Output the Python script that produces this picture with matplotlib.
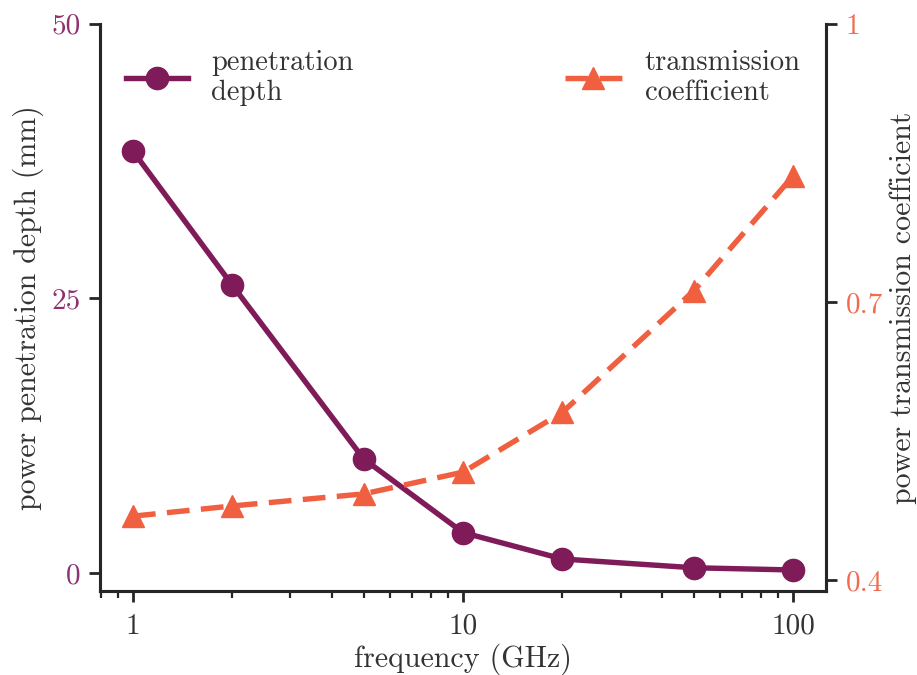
import numpy as np
import matplotlib
matplotlib.use("Agg")
import matplotlib.pyplot as plt
from matplotlib.ticker import LogLocator, NullFormatter

plt.rcParams.update({
    "font.family": "serif",
    "font.serif": ["cmr10", "DejaVu Serif"],
    "mathtext.fontset": "cm",
    "axes.formatter.use_mathtext": True,
    "axes.unicode_minus": False,
})

PUR, ORG, INK = "#7e1b58", "#f06040", "#333333"
PUR_T, ORG_T = "#8e3170", "#f36a4f"

freq = [1, 2, 5, 10, 20, 50, 100]
depth = [38.4, 26.2, 10.4, 3.7, 1.3, 0.5, 0.3]
trans = [0.469, 0.480, 0.493, 0.5165, 0.581, 0.712, 0.836]

fig, ax = plt.subplots(figsize=(9.17, 6.75), dpi=100)
fig.subplots_adjust(left=0.109, right=0.901, top=0.965, bottom=0.124)
ax2 = ax.twinx()

ax.plot(freq, depth, "-o", color=PUR, lw=3.9, ms=16, label="penetration\ndepth", zorder=3)
ax2.plot(freq, trans, "--^", color=ORG, lw=3.9, ms=16, dashes=(4.2, 2.1),
         label="transmission\ncoefficient", zorder=3)

ax.set_xscale("log")
ax.set_xlim(10 ** -0.1, 10 ** 2.1)
ax.set_ylim(-1.64, 50)
ax2.set_ylim(0.388, 1.0)
ax.set_yticks([0, 25, 50])
ax.set_yticklabels(["0", "25", "50"])
ax2.set_yticks([0.4, 0.7, 1.0])
ax2.set_yticklabels(["0.4", "0.7", "1"])
ax.set_xticks([1, 10, 100])
ax.set_xticklabels(["1", "10", "100"])
ax.xaxis.set_minor_locator(LogLocator(base=10, subs=np.arange(2, 10)))
ax.xaxis.set_minor_formatter(NullFormatter())

for a in (ax, ax2):
    a.spines["top"].set_visible(False)
    for sp in a.spines.values():
        sp.set_linewidth(2.2)
        sp.set_color("#262626")
    a.tick_params(which="major", length=8, width=2, color="#262626", labelsize=21, pad=6)
    a.tick_params(which="minor", length=5, width=1.6, color="#262626")
ax.tick_params(axis="x", labelcolor=INK, pad=8)
ax.tick_params(axis="y", labelcolor=PUR_T)
ax2.tick_params(axis="y", labelcolor=ORG_T)

ax.set_xlabel("frequency (GHz)", fontsize=21.5, color=INK, labelpad=3)
ax.set_ylabel("power penetration depth (mm)", fontsize=21.5, color=INK, labelpad=5)
ax2.set_ylabel("power transmission coefficient", fontsize=21.5, color=INK, labelpad=5)

ax.legend(loc="upper left", frameon=False, fontsize=20.5, handlelength=2.2,
          labelspacing=0.3, bbox_to_anchor=(0.0, 1.0), labelcolor=INK)
ax2.legend(loc="upper right", frameon=False, fontsize=20.5, handlelength=2.0,
           labelspacing=0.3, bbox_to_anchor=(1.0, 1.0), labelcolor=INK)

fig.savefig("out.png", dpi=100, facecolor="white")
